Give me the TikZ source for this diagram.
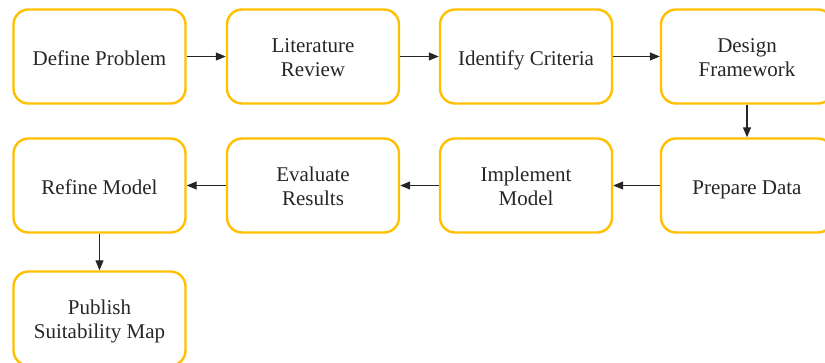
\documentclass[tikz,border=0pt]{standalone}
\usepackage{fontspec}
\newfontfamily\tnr{Liberation Serif}
\usetikzlibrary{arrows.meta}
\begin{document}
\begin{tikzpicture}[x=1pt,y=-1pt,
  stepbox/.style={draw=boxc, line width=2.4pt, rounded corners=15pt, minimum width=172pt, minimum height=94pt, align=center, font=\tnr\fontsize{21}{24}\selectfont, text=black!85, inner sep=0pt, text height=18pt, text depth=0pt},
  twoline/.style={text height=40pt, text depth=0pt},
  conn/.style={draw=black!85, line width=1.1pt, -{Triangle[length=10pt,width=8pt]}}]
\definecolor{boxc}{HTML}{FFC000}
\useasboundingbox (0,0) rectangle (825,362);
\node[stepbox] (a) at (99.5,56.5) {Define Problem};
\node[stepbox,twoline] (b) at (313,56.5) {Literature\\Review};
\node[stepbox] (c) at (526,56.5) {Identify Criteria};
\node[stepbox,twoline] (d) at (747,56.5) {Design\\Framework};
\node[stepbox] (e) at (747,185.5) {Prepare Data};
\node[stepbox,twoline] (f) at (526,185.5) {Implement\\Model};
\node[stepbox,twoline] (g) at (313,185.5) {Evaluate\\Results};
\node[stepbox] (h) at (99.5,185.5) {Refine Model};
\node[stepbox,twoline] (i) at (99.5,318.5) {Publish\\Suitability Map};
\draw[conn] (a) -- (b);
\draw[conn] (b) -- (c);
\draw[conn] (c) -- (d);
\draw[conn] (d) -- (e);
\draw[conn] (e) -- (f);
\draw[conn] (f) -- (g);
\draw[conn] (g) -- (h);
\draw[conn] (h) -- (i);
\end{tikzpicture}
\end{document}
